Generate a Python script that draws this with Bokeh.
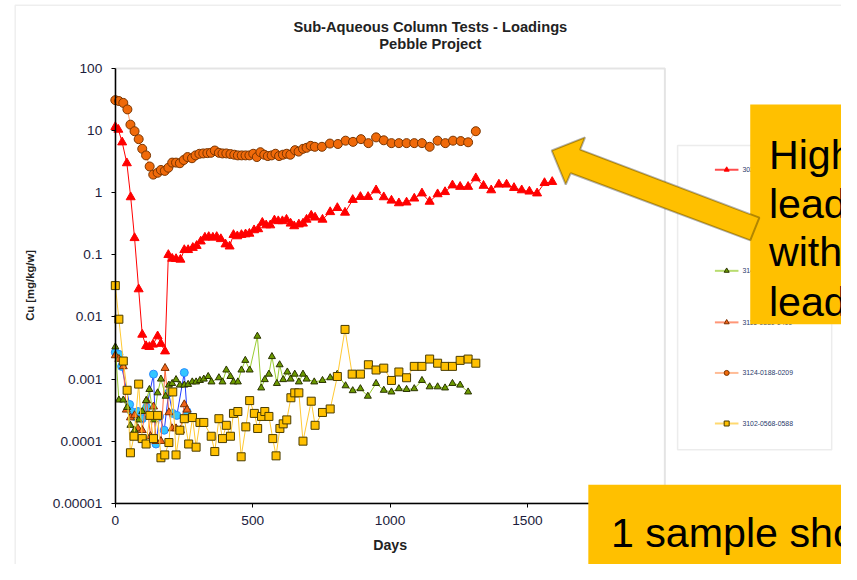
import math
from bokeh.plotting import figure
from bokeh.models import (Range1d, LinearAxis, LogAxis, FixedTicker, BoxAnnotation,
                          PolyAnnotation, Label, Span)
from bokeh.core.properties import value
from bokeh.embed import file_html
from bokeh.resources import INLINE

# ---------------- data ----------------
x_ticks = [0, 500, 1000, 1500, 2000]
y_ticks = [1e-5, 1e-4, 1e-3, 1e-2, 1e-1, 1, 10, 100]
y_tick_labels = ["0.00001", "0.0001", "0.001", "0.01", "0.1", "1", "10", "100"]

series_names = ["3029-0117-0137", "3112-0050-0070", "3140-0203-0225",
                "3116-0380-0400", "3124-0188-0209", "3102-0568-0588"]

red_days = [0, 11, 25, 42, 56, 70, 85, 98, 112, 124, 137, 154, 166, 181, 193, 207, 221, 237, 251, 265,
            282, 296, 311, 326, 340, 355, 369, 384, 401, 416, 430, 444, 459, 474, 488, 505, 520, 535, 549, 564,
            579, 593, 608, 623, 638, 651, 668, 683, 696, 713, 727, 754, 782, 808, 836, 864, 892, 920, 949, 977,
            1005, 1032, 1060, 1088, 1116, 1144, 1173, 1200, 1227, 1255, 1284, 1312, 1340, 1368, 1396, 1424,
            1451, 1479, 1507, 1535, 1562, 1590]
red_vals = [11.5, 10.4, 6.5, 3.0, 0.85, 0.187, 0.028, 0.0052, 0.0034, 0.0033, 0.0036, 0.0049, 0.0037, 0.0028,
            0.1, 0.087, 0.086, 0.084, 0.12, 0.12, 0.13, 0.14, 0.165, 0.19, 0.195, 0.19, 0.195, 0.18, 0.148,
            0.137, 0.21, 0.2, 0.21, 0.215, 0.22, 0.25, 0.26, 0.33, 0.3, 0.3, 0.36, 0.35, 0.35, 0.37, 0.32, 0.29,
            0.31, 0.32, 0.37, 0.43, 0.4, 0.37, 0.49, 0.57, 0.48, 0.77, 0.86, 0.86, 1.1, 0.85, 0.75, 0.68, 0.7,
            0.81, 0.98, 0.72, 0.95, 1.03, 1.32, 1.25, 1.25, 1.72, 1.3, 1.1, 1.36, 1.36, 1.2, 1.1, 1.05, 0.98,
            1.44, 1.5]

blue_days = [0, 13, 23, 52, 59, 70, 83, 98, 114, 139, 148, 161, 178, 194, 209, 224, 251, 261]
blue_vals = [0.0027, 0.0025, 0.0016, 0.00039, 0.0003, 0.00025, 0.0003, 0.00023, 0.00035, 0.0012, 0.00009,
             0.00025, 0.00015, 0.0006, 0.00028, 0.00026, 0.00127, 0.0003]

green_days = [0, 13, 29, 43, 55, 70, 85, 98, 112, 124, 140, 154, 166, 183, 195, 207, 221, 235, 251, 265,
              280, 294, 308, 322, 338, 350, 377, 390, 404, 419, 430, 446, 459, 473, 489, 517, 531, 544, 559, 570,
              588, 598, 611, 626, 638, 653, 668, 683, 696, 724, 754, 782, 808, 838, 864, 892, 919, 949, 977, 1005,
              1032, 1060, 1088, 1116, 1144, 1173, 1200, 1227, 1255, 1284]
green_vals = [0.0033, 0.00046, 0.00046, 0.00035, 0.00018, 0.00015, 0.00022, 0.0003, 0.00045, 0.00068,
              0.00022, 0.0006, 0.001, 0.00053, 0.0008, 0.00085, 0.00098, 0.0008, 0.0008, 0.00082,
              0.0009, 0.0009, 0.00095, 0.001, 0.0011, 0.0009, 0.00105, 0.0009, 0.0014, 0.0011,
              0.0009, 0.0009, 0.0014, 0.002, 0.0014, 0.0049, 0.00072, 0.00098, 0.0012, 0.0023,
              0.00085, 0.0017, 0.00098, 0.0013, 0.001, 0.0012, 0.0009, 0.0012, 0.001, 0.0009,
              0.00095, 0.00105, 0.0012, 0.00078, 0.00065, 0.0007, 0.00053, 0.00085, 0.00066, 0.00062,
              0.0007, 0.00068, 0.0007, 0.00095, 0.00075, 0.00075, 0.00072, 0.00085, 0.0008, 0.00062]

otri_days = [0, 13, 29, 40, 55, 70, 82, 98, 114, 128, 139, 148, 166, 181, 195, 207, 221, 237, 251, 261]
otri_vals = [0.0024, 0.0021, 0.0016, 0.00032, 0.00024, 0.00026, 0.00016, 0.00015, 0.00045, 0.00012,
             0.00036, 0.0001, 0.0001, 0.0015, 0.00029, 0.00016, 0.00016, 0.00015, 0.00039, 0.00032]

ocirc_days = [0, 13, 29, 44, 55, 70, 85, 98, 112, 125, 138, 154, 166, 180, 193, 207, 221, 235, 249, 263,
              279, 292, 306, 320, 335, 348, 362, 377, 390, 404, 419, 433, 446, 460, 474, 488, 502, 515, 528, 542,
              555, 569, 583, 596, 610, 624, 637, 654, 667, 683, 696, 711, 726, 752, 781, 810, 838, 865, 894, 921,
              949, 977, 1005, 1032, 1060, 1088, 1116, 1144, 1173, 1201, 1229, 1257, 1284, 1312]
ocirc_vals = [31, 30, 28, 22, 12.5, 9.8, 7.3, 5.1, 4.0, 2.65, 1.96, 2.1, 2.33, 2.25, 2.53, 3.06, 3.06, 2.99,
              3.37, 3.76, 3.6, 4.0, 4.24, 4.3, 4.35, 4.4, 4.79, 4.4, 4.3, 4.3, 4.2, 4.1, 4.0, 4.0, 4.0, 4.0,
              4.25, 3.76, 4.5, 4.1, 3.9, 4.0, 4.25, 3.9, 4.1, 4.25, 4.1, 4.85, 4.6, 5.1, 5.3, 5.7, 5.5, 5.5,
              6.2, 6.1, 6.9, 6.6, 7.3, 6.3, 7.8, 7.0, 6.3, 6.3, 6.3, 6.3, 6.3, 5.5, 6.9, 6.3, 6.9, 6.8, 6.5, 9.8]

ysq_days = [0, 13, 29, 43, 55, 68, 85, 98, 112, 126, 139, 154, 166, 180, 195, 209, 221, 235, 251, 267,
            281, 294, 308, 322, 349, 362, 377, 390, 404, 419, 430, 446, 458, 475, 489, 506, 518, 532, 544, 559,
            573, 585, 599, 611, 624, 639, 653, 668, 683, 713, 727, 754, 782, 808, 836, 862, 892, 921, 949, 977,
            1005, 1032, 1060, 1088, 1116, 1144, 1173, 1200, 1227, 1255, 1284, 1312]
ysq_vals = [0.032, 0.0092, 0.00195, 0.00066, 0.000065, 0.00012, 0.00083, 0.00011, 0.00009, 0.00026,
            0.00011, 0.00026, 0.000054, 0.00006, 0.000095, 0.00062, 0.00006, 0.00015, 0.00023, 0.00009,
            0.00024, 0.00008, 0.0002, 0.0002, 0.00012, 0.000068, 0.00023, 0.00011, 0.00018, 0.00012,
            0.00028, 0.0003, 0.000056, 0.00017, 0.00045, 0.00028, 0.00016, 0.00025, 0.0003, 0.00025,
            0.00011, 0.000058, 0.00016, 0.00019, 0.00022, 0.0005, 0.0006, 0.0006, 0.0001, 0.00044,
            0.00018, 0.00029, 0.00033, 0.0011, 0.0063, 0.0012, 0.0012, 0.0017, 0.0014, 0.0015,
            0.00095, 0.0013, 0.00105, 0.0016, 0.0016, 0.0021, 0.0018, 0.0016, 0.0016, 0.002,
            0.0021, 0.0018]

callout1_lines = ["High", "lead", "with", "lead"]
callout2_lines = ["1 sample sho", "higher As lea"]

# ---------------- geometry: reference picture (857x580) mapped onto the canvas ----------------
W, H = 841, 564
REF_W, REF_H = 857, 580
X0_PX, PX_PER_DAY = 117.0, 0.28      # day 0 at x=117, 500 days = 140 px
Y100_PX, DEC_PX = 70.0, 63.86        # 100 at y=70, one decade = 63.86 px
S = W / REF_W


def px2x(px):
    return (px - X0_PX) / PX_PER_DAY


def py2y(py):
    return 10 ** (2 - (py - Y100_PX) / DEC_PX)


def fs(px):
    return "%.1fpx" % (px * S)


FONT = "Liberation Sans"
TXT = "#1c1c3c"

p = figure(width=W, height=H,
           x_range=Range1d(px2x(0), px2x(REF_W)),
           y_range=Range1d(py2y(REF_H), py2y(0)),
           y_axis_type="log", x_axis_location=None, y_axis_location=None,
           toolbar_location=None, output_backend="svg", min_border=0,
           outline_line_color=None, background_fill_color="white")
p.grid.visible = False

# outer chart frame and plot area
p.add_layout(BoxAnnotation(left=px2x(15), right=px2x(2000), top=py2y(5), bottom=py2y(2000),
                           fill_alpha=0, line_color="#c8c8c8", line_width=1.5, level="underlay"))
p.add_layout(BoxAnnotation(left=0, right=2000, bottom=1e-5, top=100, fill_color="white",
                           fill_alpha=1, line_color="#a6a6a6", line_width=2, level="underlay"))

# axes
xaxis = LinearAxis(fixed_location=1e-5, bounds=(0, 2000), ticker=FixedTicker(ticks=x_ticks))
yaxis = LogAxis(fixed_location=0, bounds=(1e-5, 100), ticker=FixedTicker(ticks=y_ticks),
                major_label_overrides=dict(zip(y_ticks, y_tick_labels)))
for ax in (xaxis, yaxis):
    ax.axis_line_color = "black"
    ax.axis_line_width = 1.5
    ax.major_tick_in = 0
    ax.major_tick_out = 4
    ax.minor_tick_line_color = None
    ax.major_label_standoff = 9
    ax.major_label_text_font = FONT
    ax.major_label_text_font_size = fs(14)
    ax.major_label_text_color = TXT
p.add_layout(xaxis, "below")
p.add_layout(yaxis, "left")

# series
styles = [  # line colour, marker, size, fill, outline
    ("#ff0000", "triangle", 9, "#ff0000", "#ff0000"),
    ("#1f3cff", "circle", 8, "#33c6ff", "#2a8cff"),
    ("#9acd32", "triangle", 7, "#6b9a00", "#2a3300"),
    ("#ff6a3d", "triangle", 8, "#f0641a", "#7a3000"),
    ("#ff9f6a", "circle", 9, "#f06a0a", "#7a3500"),
    ("#ffc933", "square", 8, "#ffc000", "#4a3c00"),
]
series = [(red_days, red_vals), (blue_days, blue_vals), (green_days, green_vals),
          (otri_days, otri_vals), (ocirc_days, ocirc_vals), (ysq_days, ysq_vals)]
draw_order = [1, 3, 2, 0, 4, 5]
for i in draw_order:
    d, v = series[i]
    lc, mk, sz, fc, oc = styles[i]
    p.line(d, v, line_color=lc, line_width=1)
    p.scatter(d, v, marker=mk, size=sz, fill_color=fc, line_color=oc, line_width=1)

# legend (drawn by hand so the callouts can lie over it)
p.add_layout(BoxAnnotation(left=px2x(690), right=px2x(847), top=py2y(149), bottom=py2y(462),
                           fill_color="white", fill_alpha=1, line_color="#c0c0c0",
                           line_width=1.5, level="underlay"))
leg_rows = [174, 226, 278, 331, 383, 435]
for (lc, mk, sz, fc, oc), name, row in zip(styles, series_names, leg_rows):
    yy = py2y(row)
    p.line([px2x(728), px2x(752)], [yy, yy], line_color=lc, line_width=2, line_alpha=0.7)
    p.scatter([px2x(740)], [yy], marker=mk, size=5, fill_color=fc, line_color=oc, line_width=1)
    p.text([px2x(756)], [yy], text=[name], text_font=value(FONT), text_font_size=fs(7),
           text_baseline="middle", text_align="left", text_color="#2a3a6a")

# titles and axis labels
for txt, yy in [("Sub-Aqueous Column Tests - Loadings", 27), ("Pebble Project", 45)]:
    p.add_layout(Label(x=px2x(438), y=py2y(yy), text=txt, text_align="center",
                       text_baseline="middle", text_font=FONT, text_font_style="bold",
                       text_font_size=fs(15), text_color="#222222"))
p.add_layout(Label(x=px2x(397), y=py2y(560), text="Days", text_align="center",
                   text_baseline="middle", text_font=FONT, text_font_style="bold",
                   text_font_size=fs(14.5), text_color="#222222"))
p.add_layout(Label(x=px2x(30), y=py2y(293), text="Cu [mg/kg/w]", text_align="center",
                   text_baseline="middle", angle=math.pi / 2, text_font=FONT,
                   text_font_style="bold", text_font_size=fs(11.5), text_color="#222222"))

# callouts
p.add_layout(BoxAnnotation(left=px2x(764), right=px2x(1000), top=py2y(107), bottom=py2y(333),
                           fill_color="#ffc000", fill_alpha=1, line_color=None, level="overlay"))
p.add_layout(BoxAnnotation(left=px2x(599), right=px2x(1000), top=py2y(498), bottom=py2y(700),
                           fill_color="#ffc000", fill_alpha=1, line_color=None, level="overlay"))
arrow_px = [(561.7, 154.3), (595.7, 140.7), (590.7, 153.3), (773.3, 223.3),
            (764.0, 246.7), (581.0, 177.7), (576.0, 189.3)]
p.add_layout(PolyAnnotation(xs=[px2x(a) for a, b in arrow_px], ys=[py2y(b) for a, b in arrow_px],
                            fill_color="#ffc000", fill_alpha=1, line_color="black",
                            line_width=2, level="overlay"))

for txt, yy in zip(callout1_lines, [159, 209, 259, 310]):
    p.add_layout(Label(x=px2x(783), y=py2y(yy), text=txt, text_baseline="alphabetic",
                       text_font=FONT, text_font_size=fs(42), text_color="black", level="overlay"))
for txt, yy in zip(callout2_lines, [548, 598]):
    p.add_layout(Label(x=px2x(622), y=py2y(yy), text=txt, text_baseline="alphabetic",
                       text_font=FONT, text_font_size=fs(42), text_color="black", level="overlay"))

open("out.html", "w").write(file_html(p, INLINE))
